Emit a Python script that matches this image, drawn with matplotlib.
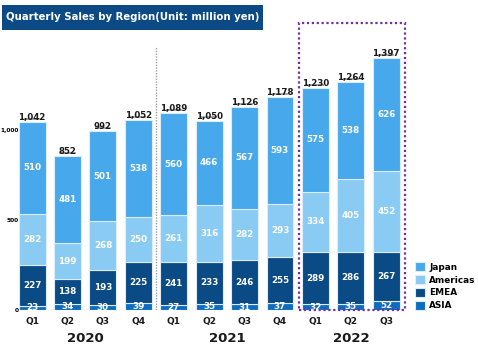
import numpy as np
import matplotlib
matplotlib.use("Agg")
import matplotlib.pyplot as plt
from matplotlib.patches import Rectangle
from matplotlib.transforms import ScaledTranslation

# quarterly sales by region, million yen
quarters = ["Q1", "Q2", "Q3", "Q4", "Q1", "Q2", "Q3", "Q4", "Q1", "Q2", "Q3"]
years = ["2020", "2021", "2022"]
asia = [23, 34, 30, 39, 27, 35, 31, 37, 32, 35, 52]
emea = [227, 138, 193, 225, 241, 233, 246, 255, 289, 286, 267]
americas = [282, 199, 268, 250, 261, 316, 282, 293, 334, 405, 452]
japan = [510, 481, 501, 538, 560, 466, 567, 593, 575, 538, 626]
totals = [1042, 852, 992, 1052, 1089, 1050, 1126, 1178, 1230, 1264, 1397]

series = [("ASIA", asia, "#0d6bc0"),
          ("EMEA", emea, "#0a4a85"),
          ("Americas", americas, "#8acbf3"),
          ("Japan", japan, "#47a9ec")]

fig = plt.figure(figsize=(4.78, 3.44), dpi=100)
ax = fig.add_axes([19 / 478, 34 / 344, 386 / 478, 290 / 344])
x = np.arange(len(quarters))

bottom = np.zeros(len(x))
handles = []
for name, vals, col in series:
    vals = np.array(vals)
    b = ax.bar(x, vals, 0.76, bottom=bottom, color=col, edgecolor="#dcecf8",
               linewidth=0.8, label=name, zorder=2)
    handles.append(b)
    for xi, v, bt in zip(x, vals, bottom):
        ax.text(xi, bt + v / 2, str(v), ha="center", va="center", color="white",
                fontsize=6.3, fontweight="bold", zorder=3)
    bottom += vals

# totals above each bar, underlined
ul = ax.transData + ScaledTranslation(0, 2.2 / 72, fig.dpi_scale_trans)
for xi, t in zip(x, totals):
    ax.text(xi, t, f"{t:,}", ha="center", va="bottom", fontsize=6.2,
            fontweight="bold", color="#1a1a1a")
    ax.plot([xi - 0.23, xi + 0.23], [t, t], color="#9a9a9a", lw=1.2,
            transform=ul, solid_capstyle="butt")

ax.set_xlim(-0.37, 10.53)
ax.set_ylim(0, 1607)
ax.set_yticks([0, 500, 1000])
ax.set_yticklabels(["0", "500", "1,000"], fontsize=4.2, fontweight="bold")
ax.tick_params(axis="y", length=0, pad=0.3)
ax.set_xticks([])
for s in ax.spines.values():
    s.set_visible(False)

# baseline and year separator
ax.axhline(0, color="#b0b0b0", lw=1, ls=(0, (1, 1)), zorder=1)
ax.plot([3.5, 3.5], [0, 1463], color="#a0a0a0", lw=1, ls=(0, (1, 1)), zorder=1)

# highlight box around 2022
ax.add_patch(Rectangle((7.54, 0), 3.0, 1591, fill=False, edgecolor="#7030a0",
                       lw=1.6, ls=(0, (1, 1.2)), clip_on=False, zorder=4))

for xi, q in zip(x, quarters):
    ax.text(xi, -65, q, ha="center", va="center", fontsize=6.5,
            fontweight="bold", color="#1a1a1a")
for xp, yr in zip([1.5, 5.5, 9.0], years):
    ax.text(xp, -160, yr, ha="center", va="center", fontsize=9.5,
            fontweight="bold", color="#1a1a1a")

leg = fig.legend(handles[::-1], [h.get_label() for h in handles[::-1]],
                 loc="upper left", bbox_to_anchor=(411 / 478, 1 - 258 / 344),
                 frameon=False, fontsize=6.4, handlelength=1.1, handleheight=1.1,
                 handletextpad=0.45, labelspacing=0.4, borderpad=0)
for t in leg.get_texts():
    t.set_fontweight("bold")

# title banner
fig.patches.append(Rectangle((2 / 478, 1 - 30 / 344), 261 / 478, 25 / 344,
                             transform=fig.transFigure, fc="#0b4a85", ec="none"))
fig.text(133 / 478, 1 - 17.5 / 344, "Quarterly Sales by Region(Unit: million yen)",
         ha="center", va="center", color="white", fontsize=7.3, fontweight="bold")

fig.savefig("out.png", dpi=100)
